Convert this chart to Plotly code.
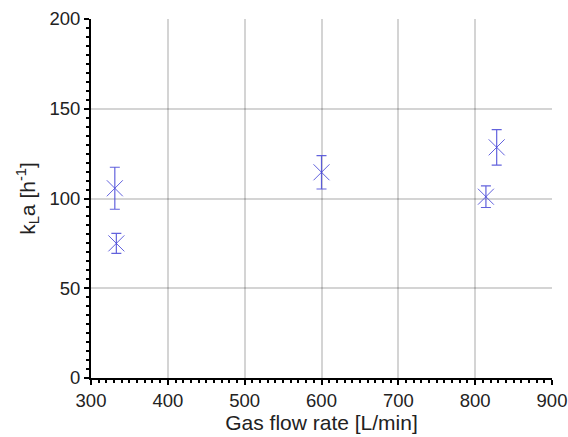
import plotly.graph_objects as go

gas_flow = [331, 333, 600, 814, 828]
kla = [105.7, 75.0, 114.6, 101.0, 128.5]
kla_err = [11.7, 5.6, 9.3, 6.0, 9.9]

color = "rgba(70,70,215,0.85)"

fig = go.Figure()
fig.add_trace(go.Scatter(
    x=gas_flow, y=kla, mode="markers",
    marker=dict(symbol="x-thin-open", size=16, color=color,
                line=dict(width=1, color=color)),
    error_y=dict(type="data", array=kla_err, visible=True,
                 color=color, thickness=1.2, width=5),
    showlegend=False,
))

tickfont = dict(family="Liberation Sans, Arial, sans-serif", size=18.5, color="#222")
titlefont = dict(family="Liberation Sans, Arial, sans-serif", size=21, color="#222")

fig.update_layout(
    width=568, height=437,
    margin=dict(l=91, r=16, t=19, b=59),
    plot_bgcolor="white", paper_bgcolor="white",
    font=tickfont,
)
fig.update_xaxes(
    range=[300, 900], dtick=100, tick0=300,
    showline=True, linecolor="black", linewidth=2,
    ticks="outside", ticklen=5, tickwidth=2, tickcolor="black",
    minor=dict(dtick=10, ticks="outside", ticklen=3, tickwidth=1.5,
               tickcolor="black", showgrid=False),
    showgrid=True, gridcolor="rgba(0,0,0,0.17)", gridwidth=1.5,
    zeroline=False, automargin=False,
    title=dict(text="Gas flow rate [L/min]", standoff=0, font=titlefont),
    tickfont=tickfont,
)
fig.update_yaxes(
    range=[0, 200], dtick=50,
    showline=True, linecolor="black", linewidth=2,
    ticks="outside", ticklen=5, tickwidth=2, tickcolor="black",
    minor=dict(dtick=5, ticks="outside", ticklen=3, tickwidth=1.5,
               tickcolor="black", showgrid=False),
    showgrid=True, gridcolor="rgba(0,0,0,0.17)", gridwidth=1.5,
    zeroline=False, automargin=False,
    title=dict(text="k<sub>L</sub>a [h<sup>-1</sup>]", standoff=8, font=titlefont),
    tickfont=tickfont,
)

fig.write_html("out.html")
